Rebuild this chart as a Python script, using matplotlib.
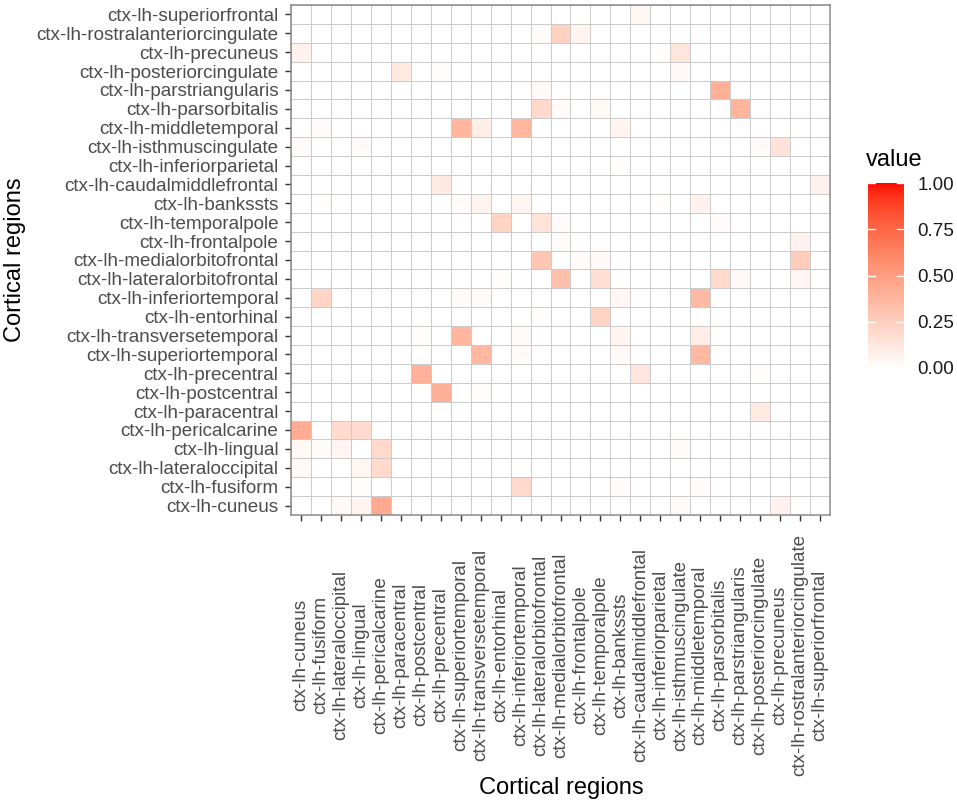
import numpy as np
import matplotlib
matplotlib.use("Agg")
import matplotlib.pyplot as plt
from matplotlib.colors import ListedColormap
from matplotlib.transforms import blended_transform_factory

plt.rcParams['font.family'] = ['Liberation Sans', 'DejaVu Sans']

# --------------------------------------------------------------------
# data

regions = ["cuneus", "fusiform", "lateraloccipital", "lingual", "pericalcarine",
           "paracentral", "postcentral", "precentral", "superiortemporal",
           "transversetemporal", "entorhinal", "inferiortemporal",
           "lateralorbitofrontal", "medialorbitofrontal", "frontalpole",
           "temporalpole", "bankssts", "caudalmiddlefrontal", "inferiorparietal",
           "isthmuscingulate", "middletemporal", "parsorbitalis",
           "parstriangularis", "posteriorcingulate", "precuneus",
           "rostralanteriorcingulate", "superiorfrontal"]
labels = ["ctx-lh-" + r for r in regions]

# non-zero cells: y region, x region, value
y_region = ["superiorfrontal",
            "rostralanteriorcingulate", "rostralanteriorcingulate", "rostralanteriorcingulate",
            "precuneus", "precuneus", "precuneus",
            "posteriorcingulate", "posteriorcingulate", "posteriorcingulate",
            "parstriangularis", "parstriangularis",
            "parsorbitalis", "parsorbitalis", "parsorbitalis", "parsorbitalis",
            "middletemporal", "middletemporal", "middletemporal", "middletemporal", "middletemporal",
            "isthmuscingulate", "isthmuscingulate", "isthmuscingulate", "isthmuscingulate",
            "inferiorparietal",
            "caudalmiddlefrontal", "caudalmiddlefrontal",
            "bankssts", "bankssts", "bankssts", "bankssts", "bankssts", "bankssts",
            "temporalpole", "temporalpole", "temporalpole", "temporalpole",
            "frontalpole", "frontalpole",
            "medialorbitofrontal", "medialorbitofrontal", "medialorbitofrontal", "medialorbitofrontal",
            "lateralorbitofrontal", "lateralorbitofrontal", "lateralorbitofrontal",
            "lateralorbitofrontal", "lateralorbitofrontal", "lateralorbitofrontal",
            "inferiortemporal", "inferiortemporal", "inferiortemporal", "inferiortemporal", "inferiortemporal",
            "entorhinal", "entorhinal",
            "transversetemporal", "transversetemporal", "transversetemporal", "transversetemporal", "transversetemporal",
            "superiortemporal", "superiortemporal", "superiortemporal", "superiortemporal",
            "precentral", "precentral", "precentral",
            "postcentral", "postcentral",
            "paracentral",
            "pericalcarine", "pericalcarine", "pericalcarine",
            "lingual", "lingual", "lingual", "lingual", "lingual",
            "lateraloccipital", "lateraloccipital", "lateraloccipital",
            "fusiform", "fusiform", "fusiform", "fusiform",
            "cuneus", "cuneus", "cuneus", "cuneus", "cuneus"]
x_region = ["caudalmiddlefrontal",
            "lateralorbitofrontal", "medialorbitofrontal", "frontalpole",
            "cuneus", "inferiorparietal", "isthmuscingulate",
            "paracentral", "precentral", "isthmuscingulate",
            "lateralorbitofrontal", "parsorbitalis",
            "lateralorbitofrontal", "medialorbitofrontal", "temporalpole", "parstriangularis",
            "fusiform", "superiortemporal", "transversetemporal", "inferiortemporal", "bankssts",
            "cuneus", "lingual", "posteriorcingulate", "precuneus",
            "bankssts",
            "precentral", "superiorfrontal",
            "fusiform", "superiortemporal", "transversetemporal", "inferiortemporal", "inferiorparietal", "middletemporal",
            "entorhinal", "lateralorbitofrontal", "medialorbitofrontal", "parsorbitalis",
            "medialorbitofrontal", "rostralanteriorcingulate",
            "lateralorbitofrontal", "frontalpole", "temporalpole", "rostralanteriorcingulate",
            "entorhinal", "medialorbitofrontal", "temporalpole",
            "parsorbitalis", "parstriangularis", "rostralanteriorcingulate",
            "fusiform", "superiortemporal", "transversetemporal", "bankssts", "middletemporal",
            "lateralorbitofrontal", "temporalpole",
            "postcentral", "superiortemporal", "inferiortemporal", "bankssts", "middletemporal",
            "transversetemporal", "inferiortemporal", "bankssts", "middletemporal",
            "postcentral", "caudalmiddlefrontal", "posteriorcingulate",
            "precentral", "transversetemporal",
            "posteriorcingulate",
            "cuneus", "lateraloccipital", "lingual",
            "cuneus", "fusiform", "lateraloccipital", "pericalcarine", "isthmuscingulate",
            "cuneus", "lingual", "pericalcarine",
            "lingual", "inferiortemporal", "bankssts", "middletemporal",
            "lateraloccipital", "lingual", "pericalcarine", "isthmuscingulate", "precuneus"]
value = [0.05,
         0.02, 0.24, 0.06,
         0.07, 0.01, 0.13,
         0.11, 0.01, 0.03,
         0.03, 0.41,
         0.20, 0.02, 0.03, 0.39,
         0.02, 0.38, 0.09, 0.38, 0.06,
         0.02, 0.02, 0.02, 0.15,
         0.01,
         0.11, 0.07,
         0.01, 0.02, 0.06, 0.05, 0.01, 0.07,
         0.23, 0.15, 0.02, 0.02,
         0.02, 0.07,
         0.30, 0.02, 0.03, 0.26,
         0.01, 0.33, 0.17,
         0.20, 0.03, 0.05,
         0.22, 0.02, 0.02, 0.05, 0.36,
         0.01, 0.23,
         0.01, 0.38, 0.02, 0.06, 0.10,
         0.37, 0.02, 0.03, 0.37,
         0.40, 0.14, 0.01,
         0.41, 0.01,
         0.12,
         0.43, 0.19, 0.19,
         0.04, 0.02, 0.05, 0.20, 0.02,
         0.03, 0.05, 0.19,
         0.01, 0.20, 0.02, 0.02,
         0.03, 0.06, 0.44, 0.02, 0.07]

n = len(regions)
mat = np.zeros((n, n))
for yr, xr, v in zip(y_region, x_region, value):
    mat[regions.index(yr), regions.index(xr)] = v


# --------------------------------------------------------------------
# white -> red gradient interpolated in Lab (like ggplot)

def srgb_to_lab(rgb):
    rgb = np.asarray(rgb, float)
    lin = np.where(rgb <= 0.04045, rgb / 12.92, ((rgb + 0.055) / 1.055) ** 2.4)
    M = np.array([[0.4124, 0.3576, 0.1805],
                  [0.2126, 0.7152, 0.0722],
                  [0.0193, 0.1192, 0.9505]])
    xyz = M @ lin / np.array([0.95047, 1.0, 1.08883])
    f = np.where(xyz > 0.008856, np.cbrt(xyz), 7.787 * xyz + 16 / 116)
    return np.array([116 * f[1] - 16, 500 * (f[0] - f[1]), 200 * (f[1] - f[2])])

def lab_to_srgb(lab):
    L, a, b = lab
    fy = (L + 16) / 116
    fx = fy + a / 500
    fz = fy - b / 200
    f = np.array([fx, fy, fz])
    xyz = np.where(f ** 3 > 0.008856, f ** 3, (f - 16 / 116) / 7.787)
    xyz = xyz * np.array([0.95047, 1.0, 1.08883])
    Minv = np.array([[3.2406, -1.5372, -0.4986],
                     [-0.9689, 1.8758, 0.0415],
                     [0.0557, -0.2040, 1.0570]])
    lin = np.clip(Minv @ xyz, 0, 1)
    return np.where(lin <= 0.0031308, 12.92 * lin, 1.055 * lin ** (1 / 2.4) - 0.055)

lab_lo = srgb_to_lab([1, 1, 1])
lab_hi = srgb_to_lab([1, 0, 0])
cols = [lab_to_srgb(lab_lo + t * (lab_hi - lab_lo)) for t in np.linspace(0, 1, 256)]
cmap = ListedColormap(np.clip(cols, 0, 1))


# --------------------------------------------------------------------
# figure

W, H = 957, 807
fig = plt.figure(figsize=(W / 100, H / 100), dpi=100)
ax = fig.add_axes([291 / W, 1 - 515 / H, 539 / W, 510 / H])

ax.pcolormesh(np.arange(n + 1) - 0.5, np.arange(n + 1) - 0.5, mat, cmap=cmap,
              vmin=0, vmax=1, edgecolors='#cbcbcb', linewidth=0.6)
ax.set_xlim(-0.5, n - 0.5)
ax.set_ylim(-0.5, n - 0.5)

for s in ax.spines.values():
    s.set_color('#8a8a8a')
    s.set_linewidth(1.1)

ax.set_xticks(np.arange(n))
ax.set_yticks(np.arange(n))
ax.set_xticklabels([])
ax.set_yticklabels(labels, fontsize=13.6, color='#4d4d4d')
ax.tick_params(axis='both', length=4, width=1, color='#333333')
ax.tick_params(axis='y', pad=5)

# x labels: rotated, centred vertically on a common line (ggplot hjust=0.5)
tr = blended_transform_factory(ax.transData, fig.transFigure)
for i, lab in enumerate(labels):
    ax.text(i, 1 - 655 / H, lab, transform=tr, rotation=90, ha='center', va='center',
            fontsize=13.6, color='#4d4d4d', clip_on=False)

fig.text(561 / W, 1 - 788 / H, "Cortical regions", ha='center', va='center', fontsize=17)
fig.text(15 / W, 1 - 260 / H, "Cortical regions", ha='center', va='center',
         rotation=90, fontsize=17)

# legend
cax = fig.add_axes([868 / W, 1 - 368 / H, 36 / W, 185 / H])
grad = np.linspace(0, 1, 256).reshape(-1, 1)
cax.imshow(grad, aspect='auto', cmap=cmap, origin='lower', extent=[0, 1, 0, 1])
cax.set_xlim(0, 1)
cax.set_ylim(0, 1)
cax.set_xticks([])
cax.yaxis.tick_right()
brks = [0, 0.25, 0.5, 0.75, 1.0]
cax.set_yticks(brks)
cax.set_yticklabels(["%.2f" % b for b in brks], fontsize=13.6, color='#1a1a1a')
cax.tick_params(axis='y', length=0, pad=9.5)
for s in cax.spines.values():
    s.set_visible(False)
for b in brks:
    cax.plot([0, 0.2], [b, b], color='white', lw=1)
    cax.plot([0.8, 1], [b, b], color='white', lw=1)

fig.text(866 / W, 1 - 160 / H, "value", ha='left', va='center', fontsize=17)

fig.savefig("out.png", dpi=100)
